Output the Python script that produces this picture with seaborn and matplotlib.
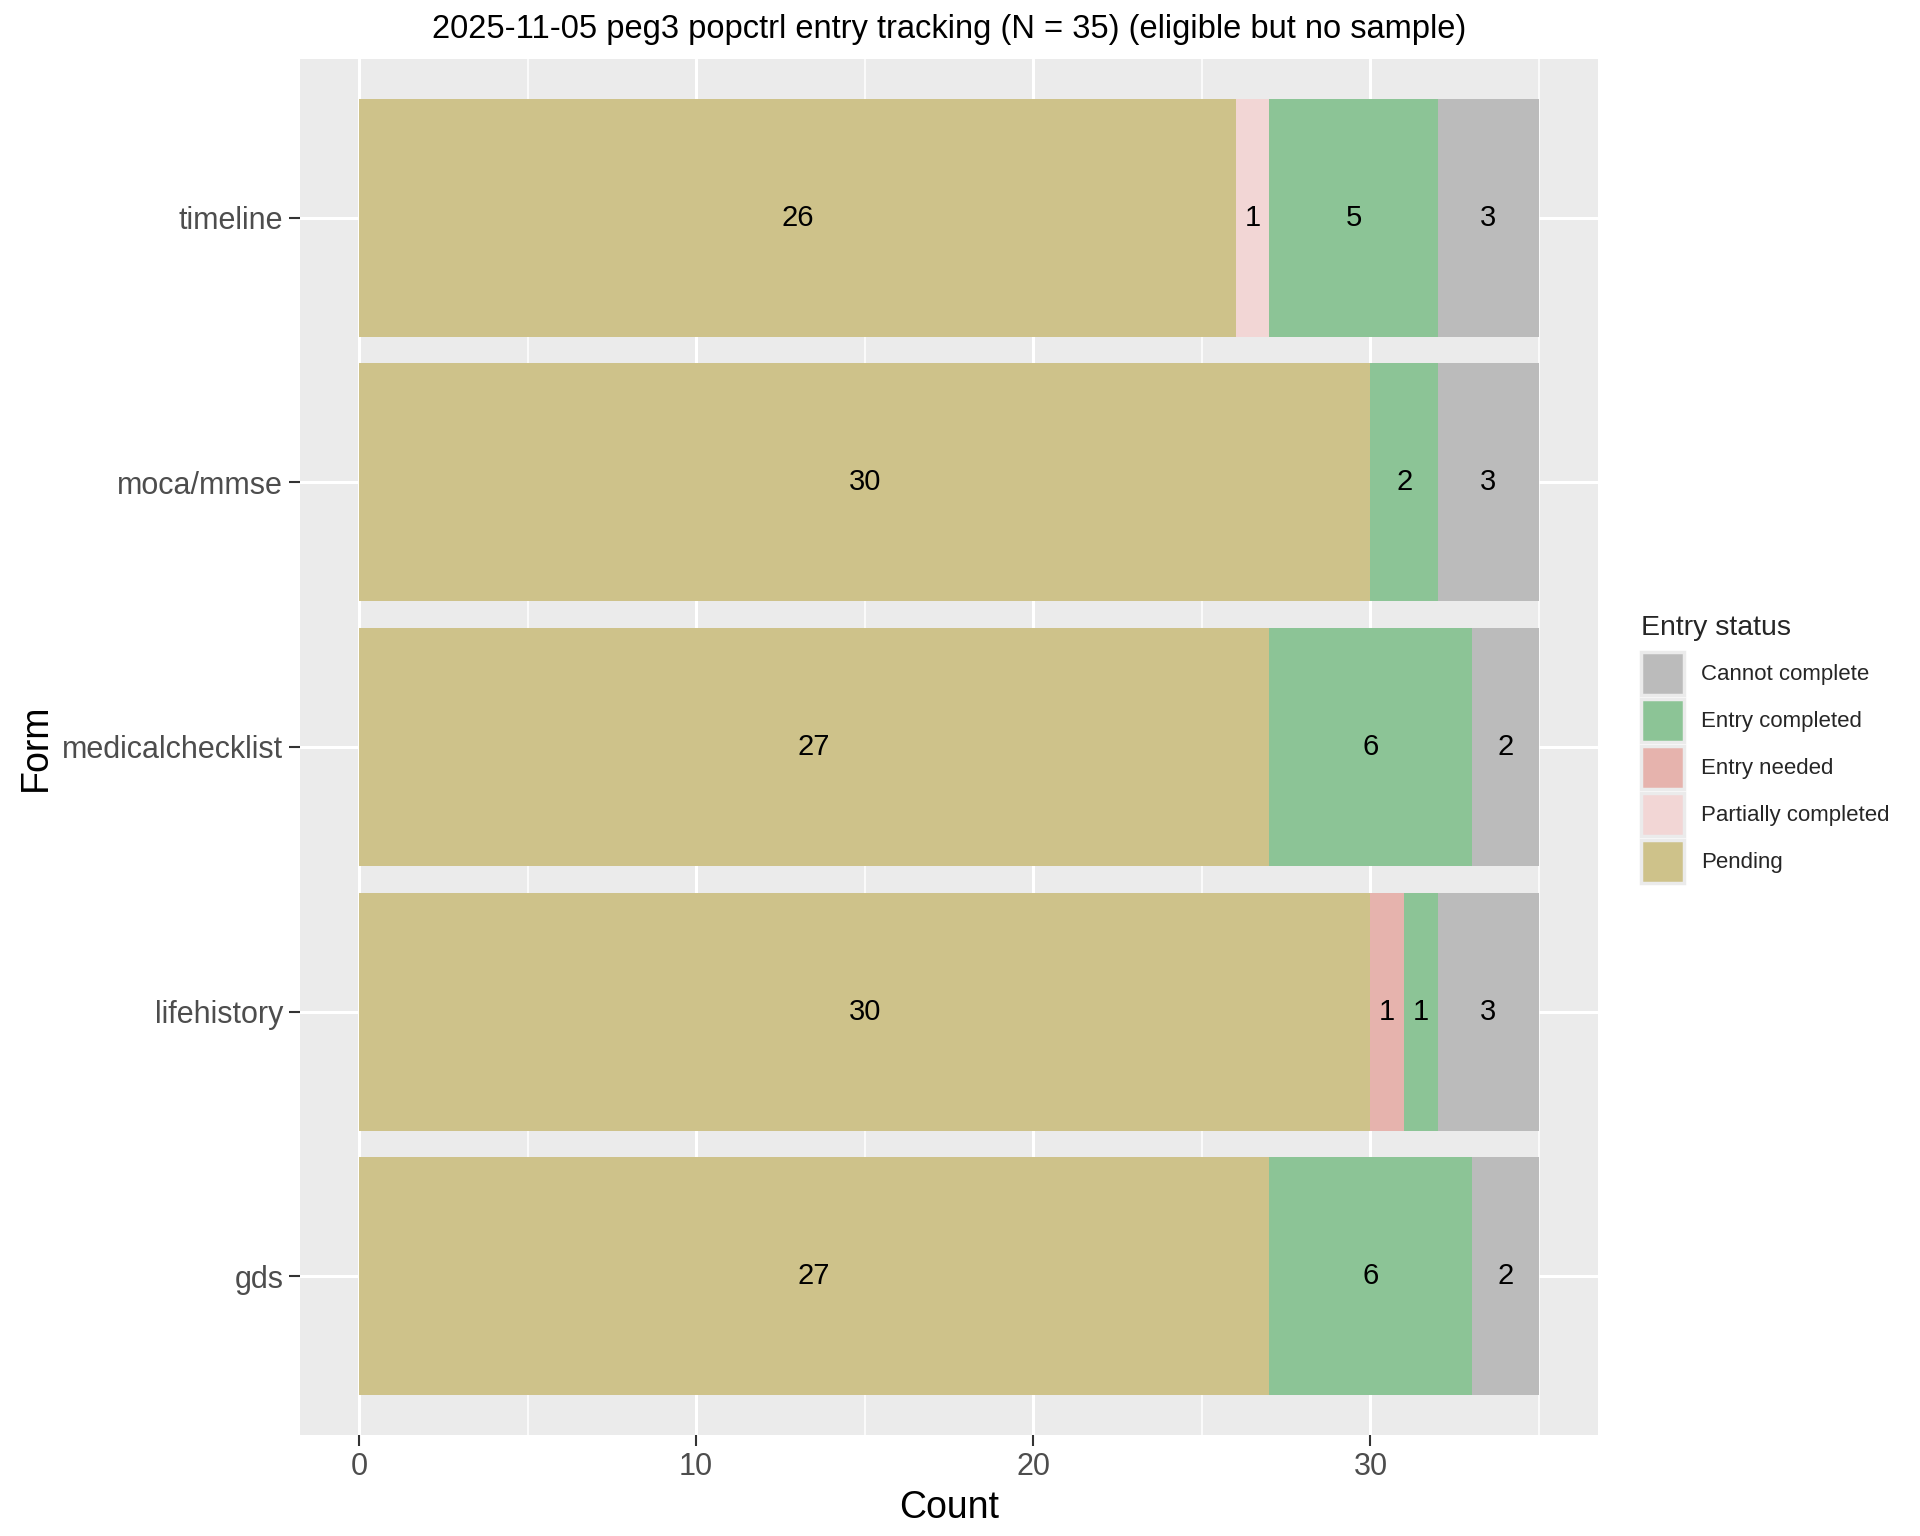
import numpy as np
import matplotlib
matplotlib.use("Agg")
import matplotlib.pyplot as plt
from matplotlib.patches import Patch
import seaborn as sns

# dane (od dołu do góry)
forms = ["gds", "lifehistory", "medicalchecklist", "moca/mmse", "timeline"]
pending = [27, 30, 27, 30, 26]
partially_completed = [0, 0, 0, 0, 1]
entry_needed = [0, 1, 0, 0, 0]
entry_completed = [6, 1, 6, 2, 5]
cannot_complete = [2, 3, 2, 3, 3]

# kolejność segmentów od lewej
statuses = ["Pending", "Partially completed", "Entry needed",
            "Entry completed", "Cannot complete"]
series = [pending, partially_completed, entry_needed,
          entry_completed, cannot_complete]
colors = {"Pending": "#CEC28A", "Partially completed": "#F2D6D5",
          "Entry needed": "#E6B3AD", "Entry completed": "#8CC496",
          "Cannot complete": "#BBBBBB"}

sns.set_theme(style="darkgrid")
plt.rcParams["font.family"] = ["Liberation Sans", "DejaVu Sans"]

fig = plt.figure(figsize=(19.2, 15.36), dpi=100)
ax = fig.add_axes([300 / 1920, 1 - 1435 / 1536, 1298 / 1920, 1376 / 1536])
ax.set_facecolor("#EBEBEB")

y = np.arange(len(forms))
left = np.zeros(len(forms))
for name, vals in zip(statuses, series):
    vals = np.array(vals, dtype=float)
    bars = ax.barh(y, vals, left=left, height=0.9, color=colors[name],
                   linewidth=0, zorder=2)
    labels = [str(int(v)) if v > 0 else "" for v in vals]
    ax.bar_label(bars, labels=labels, label_type="center", fontsize=21,
                 color="black")
    left += vals

ax.set_xlim(-1.75, 36.75)
ax.set_ylim(-0.6, len(forms) - 0.4)
ax.set_xticks([0, 10, 20, 30])
ax.set_xticks([5, 15, 25, 35], minor=True)
ax.set_yticks(y)
ax.set_yticklabels(forms)

ax.grid(which="major", color="white", linewidth=2.2, zorder=0)
ax.grid(which="minor", axis="x", color="white", linewidth=1.1, zorder=0)
ax.set_axisbelow(True)
for s in ax.spines.values():
    s.set_visible(False)

ax.tick_params(axis="both", which="major", labelsize=22, labelcolor="#4D4D4D",
               length=8, width=1.5, color="#333333", pad=4, bottom=True, left=True)
ax.tick_params(axis="x", which="minor", length=0)

ax.set_xlabel("Count", fontsize=27, color="black", labelpad=6)
ax.set_ylabel("Form", fontsize=27, color="black", labelpad=6)
ax.set_title("2025-11-05 peg3 popctrl entry tracking (N = 35) (eligible but no sample)",
             fontsize=23.5, color="black", pad=15)

# legenda w kolejności poziomów
legend_order = ["Cannot complete", "Entry completed", "Entry needed",
                "Partially completed", "Pending"]
handles = [Patch(facecolor=colors[n], edgecolor="#EBEBEB", linewidth=2.5)
           for n in legend_order]
fig.legend(handles, legend_order, title="Entry status", loc="upper left",
           bbox_to_anchor=(1641 / 1920, 1 - 615 / 1536), frameon=False,
           fontsize=16, title_fontsize=20.5, handlelength=1.95, handleheight=2.61,
           labelspacing=0.17, handletextpad=0.75, borderpad=0, borderaxespad=0,
           alignment="left")
leg = fig.legends[0]
leg._legend_box.sep = 8

plt.savefig("out.png", dpi=100)
plt.close()
